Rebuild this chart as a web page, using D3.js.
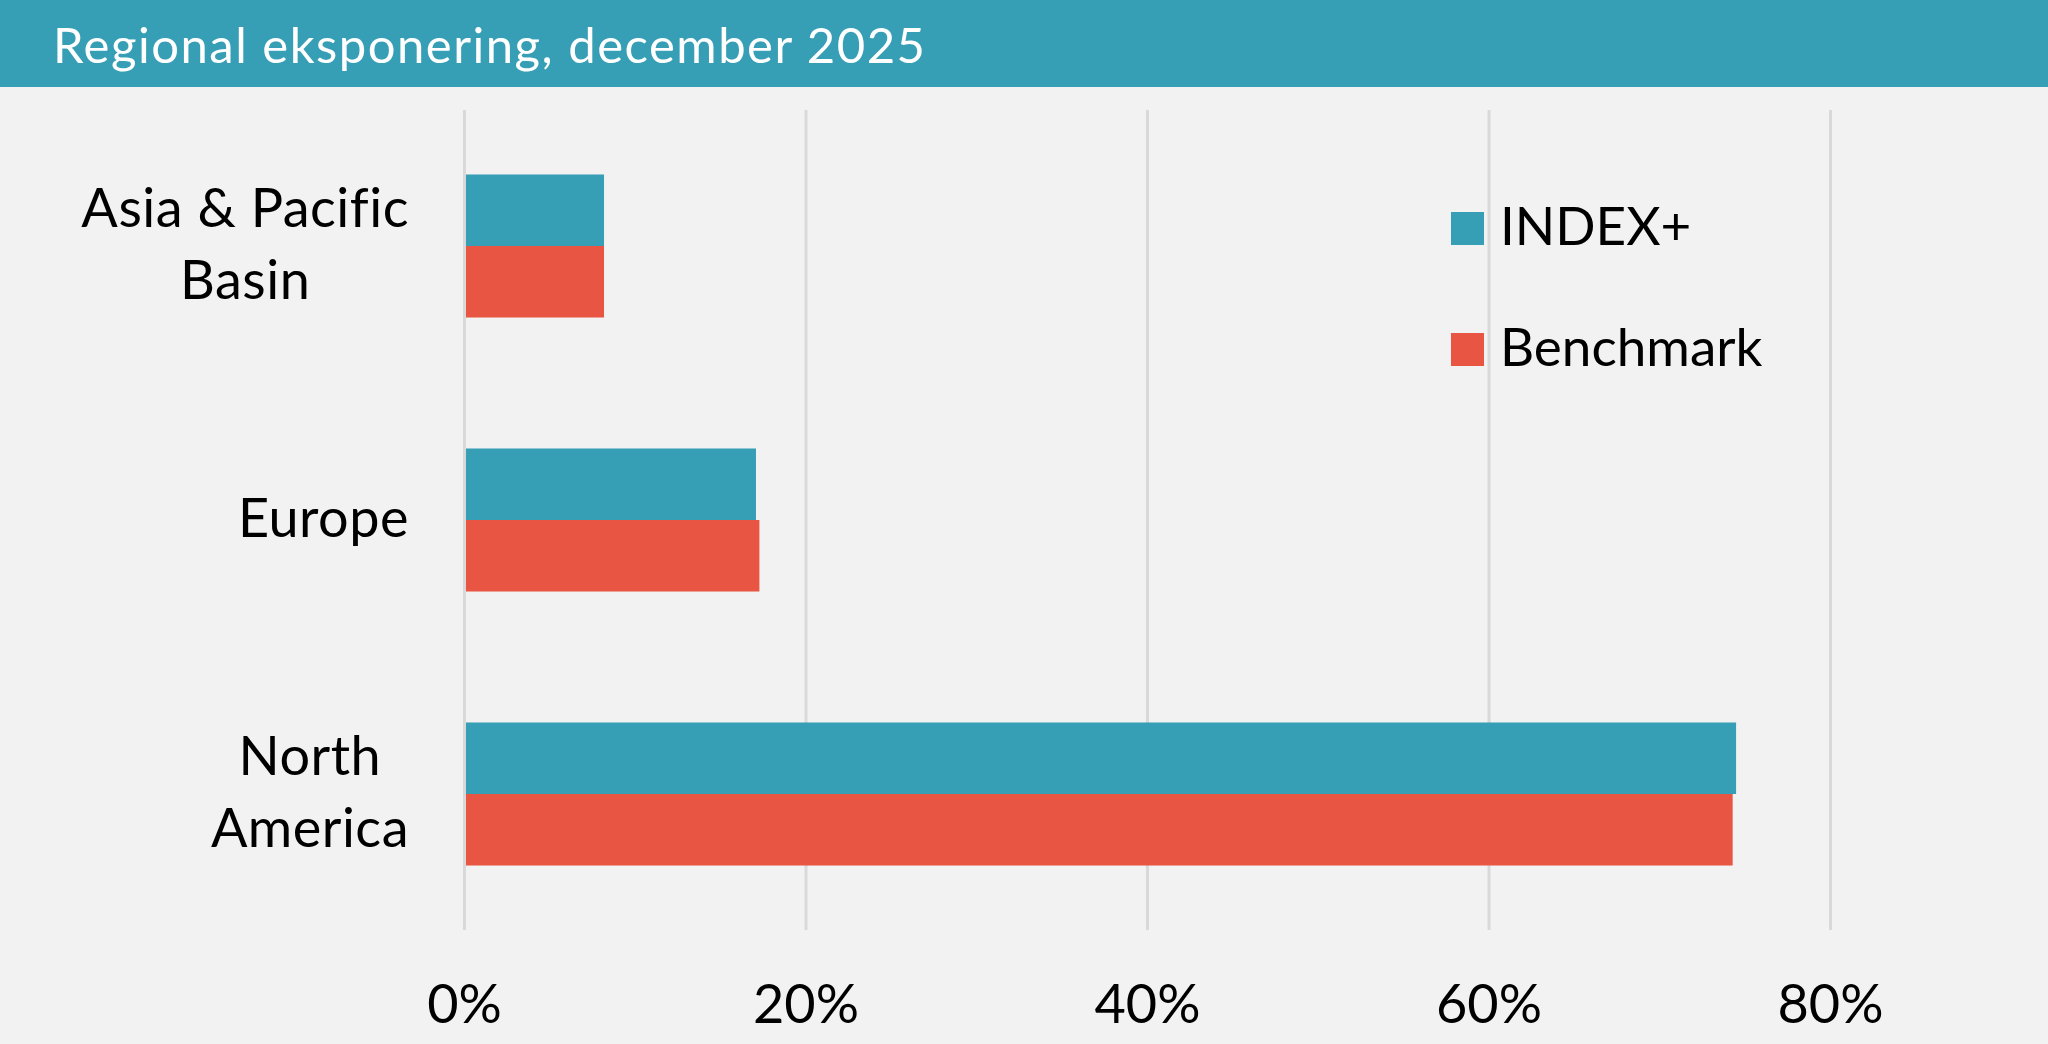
<!DOCTYPE html>
<html>
<head>
<meta charset="utf-8">
<script src="https://cdn.jsdelivr.net/npm/d3@7"></script>
<style>
  html, body { margin: 0; padding: 0; background: #f2f2f2; }
  svg { display: block; }
  text { font-family: Lato, "Open Sans", sans-serif; }
</style>
</head>
<body>
<svg id="chart" width="2048" height="1044"></svg>
<script>
const title = "Regional eksponering, december 2025";
const categories = ["Asia & Pacific\nBasin", "Europe", "North\nAmerica"];
const seriesNames = ["INDEX+", "Benchmark"];
const indexPlus = [8.2, 17.1, 74.5];
const benchmark = [8.2, 17.3, 74.3];
const xTicks = [0, 20, 40, 60, 80];
const colors = ["#379fb5", "#e85643"];

const svg = d3.select("#chart");
const W = 2048, H = 1044;

svg.append("rect").attr("width", W).attr("height", H).attr("fill", "#f2f2f2");
svg.append("rect").attr("width", W).attr("height", 87).attr("fill", "#379fb5");
const titleText = svg.append("text").attr("x", 53).attr("y", 63)
  .attr("fill", "#ffffff").attr("font-size", 49).attr("font-weight", 400)
  .text(title);
// stretch to the reference title width
const tw = titleText.node().getComputedTextLength();
titleText.attr("letter-spacing", Math.max(0, (872 - tw) / (title.length - 1)));

const x = d3.scaleLinear().domain([0, 80]).range([464, 1830]);
const y = d3.scaleBand().domain(categories).range([109, 931]).paddingInner(0.478).paddingOuter(0.239);
const ySub = d3.scaleBand().domain(seriesNames).range([0, y.bandwidth()]);

// gridlines + tick labels via axis
const axis = d3.axisBottom(x).tickValues(xTicks).tickFormat(d => d + "%").tickSize(-(930 - 110));
const gAx = svg.append("g").attr("transform", "translate(0,930)").call(axis);
gAx.select(".domain").remove();
gAx.selectAll(".tick line").attr("stroke", "#d9d9d9").attr("stroke-width", 3);
gAx.selectAll(".tick text").attr("y", 93).attr("dy", 0)
  .attr("font-size", 54).attr("fill", "#000").attr("font-family", "Lato, sans-serif");

// bars
const rows = categories.map((c, i) => ({c, vals: [indexPlus[i], benchmark[i]]}));
const gBars = svg.append("g");
rows.forEach(r => {
  r.vals.forEach((v, j) => {
    gBars.append("rect")
      .attr("x", x(0) + 2)
      .attr("y", y(r.c) + ySub(seriesNames[j]))
      .attr("width", x(v) - x(0) - 2)
      .attr("height", ySub.bandwidth())
      .attr("fill", colors[j]);
  });
});

// category labels (centered lines, block right-aligned)
const labelRight = 409;
categories.forEach(c => {
  const lines = c.split("\n");
  const cy = y(c) + y.bandwidth() / 2;
  const g = svg.append("g");
  const texts = lines.map((ln, k) => g.append("text")
      .attr("font-size", 54).attr("fill", "#000").attr("text-anchor", "middle")
      .attr("letter-spacing", 0.5)
      .attr("y", cy + 17 + (k - (lines.length - 1) / 2) * 72)
      .text(ln));
  const maxW = d3.max(texts, t => t.node().getComputedTextLength());
  texts.forEach(t => t.attr("x", labelRight - maxW / 2));
});

// legend
const legY = [212, 333];
seriesNames.forEach((s, j) => {
  svg.append("rect").attr("x", 1451).attr("y", legY[j]).attr("width", 33).attr("height", 33).attr("fill", colors[j]);
  svg.append("text").attr("x", 1500).attr("y", legY[j] + 33)
    .attr("font-size", 53).attr("fill", "#000").text(s);
});
</script>
</body>
</html>
